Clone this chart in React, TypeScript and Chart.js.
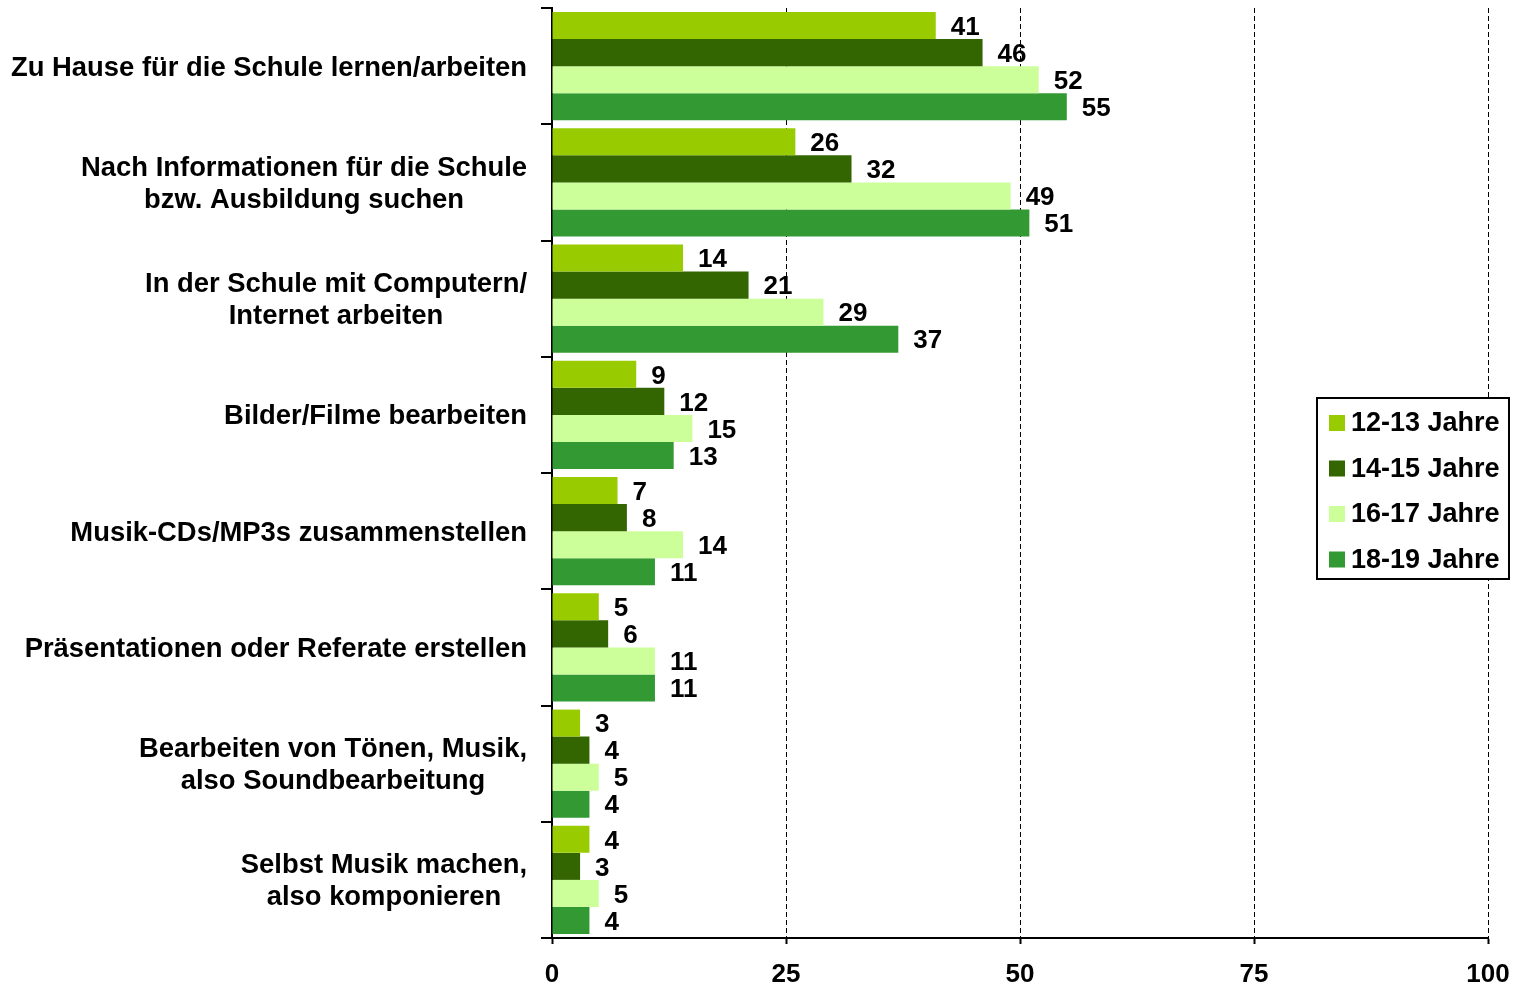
import React, { useEffect, useRef } from "react";
import { Chart, registerables } from "chart.js";

Chart.register(...registerables);

const categories: string[][] = [
  ["Zu Hause für die Schule lernen/arbeiten"],
  ["Nach Informationen für die Schule", "bzw. Ausbildung suchen"],
  ["In der Schule mit Computern/", "Internet arbeiten"],
  ["Bilder/Filme bearbeiten"],
  ["Musik-CDs/MP3s zusammenstellen"],
  ["Präsentationen oder Referate erstellen"],
  ["Bearbeiten von Tönen, Musik,", "also Soundbearbeitung"],
  ["Selbst Musik machen,", "also komponieren"],
];
const seriesNames = ["12-13 Jahre", "14-15 Jahre", "16-17 Jahre", "18-19 Jahre"];
const age1213 = [41, 26, 14, 9, 7, 5, 3, 4];
const age1415 = [46, 32, 21, 12, 8, 6, 4, 3];
const age1617 = [52, 49, 29, 15, 14, 11, 5, 5];
const age1819 = [55, 51, 37, 13, 11, 11, 4, 4];
const xTicks = [0, 25, 50, 75, 100];
const colors = ["#99CC00", "#336600", "#CCFF99", "#339933"];

const FONT = "'Liberation Sans', Arial, Helvetica, sans-serif";

const valueLabelPlugin = {
  id: "valueLabels",
  afterDatasetsDraw(chart: any) {
    const ctx = chart.ctx;
    ctx.save();
    ctx.font = `bold 26px ${FONT}`;
    ctx.fillStyle = "#000";
    ctx.textAlign = "left";
    ctx.textBaseline = "middle";
    chart.data.datasets.forEach((ds: any, di: number) => {
      const meta = chart.getDatasetMeta(di);
      meta.data.forEach((bar: any, i: number) => {
        ctx.fillText(String(ds.data[i]), bar.x + 15, bar.y + 2);
      });
    });
    ctx.restore();
  },
};

const categoryLabelPlugin = {
  id: "categoryLabels",
  afterDraw(chart: any) {
    const ctx = chart.ctx;
    const yScale = chart.scales.y;
    ctx.save();
    ctx.font = `bold 27.4px ${FONT}`;
    ctx.fillStyle = "#000";
    ctx.textAlign = "center";
    ctx.textBaseline = "middle";
    const rightEdge = yScale.right - 25;
    categories.forEach((lines, i) => {
      const cy = yScale.getPixelForValue(i) + 2;
      const w = Math.max(...lines.map((l) => ctx.measureText(l).width));
      const cx = rightEdge - w / 2;
      lines.forEach((l, j) => {
        ctx.fillText(l, cx, cy + (j - (lines.length - 1) / 2) * 32);
      });
    });
    ctx.restore();
  },
};

const legendPlugin = {
  id: "customLegend",
  afterDraw(chart: any) {
    const ctx = chart.ctx;
    const left = 1317;
    const top = 398;
    const width = 192;
    const height = 181;
    ctx.save();
    ctx.fillStyle = "#fff";
    ctx.fillRect(left, top, width, height);
    ctx.strokeStyle = "#000";
    ctx.lineWidth = 2;
    ctx.strokeRect(left, top, width, height);
    ctx.font = `bold 27px ${FONT}`;
    ctx.textAlign = "left";
    ctx.textBaseline = "middle";
    seriesNames.forEach((name, i) => {
      const cy = top + 25 + i * 45.5;
      ctx.fillStyle = colors[i];
      ctx.fillRect(left + 12, cy - 8, 16, 16);
      ctx.fillStyle = "#000";
      ctx.fillText(name, left + 34, cy + 1);
    });
    ctx.restore();
  },
};

export default function App() {
  const canvasRef = useRef<HTMLCanvasElement | null>(null);

  useEffect(() => {
    if (!canvasRef.current) return;
    const series = [age1213, age1415, age1617, age1819];
    const chart = new Chart(canvasRef.current, {
      type: "bar",
      data: {
        labels: categories.map((c) => c.join(" ")),
        datasets: series.map((values, i) => ({
          label: seriesNames[i],
          data: values,
          backgroundColor: colors[i],
          borderWidth: 0,
          categoryPercentage: 0.93,
          barPercentage: 1,
        })),
      },
      options: {
        indexAxis: "y",
        responsive: false,
        animation: false,
        layout: { padding: { top: 8, right: 29, left: 0, bottom: 0 } },
        plugins: {
          legend: { display: false },
          tooltip: { enabled: false },
        },
        scales: {
          x: {
            type: "linear",
            position: "bottom",
            min: 0,
            max: 100,
            afterBuildTicks: (scale: any) => {
              scale.ticks = xTicks.map((v) => ({ value: v }));
            },
            afterFit: (scale: any) => {
              scale.height = 48;
              scale.paddingLeft = 0;
              scale.paddingRight = 0;
            },
            ticks: {
              color: "#000",
              font: { family: FONT, size: 26, weight: "bold" },
              padding: 15,
              maxRotation: 0,
            },
            grid: {
              color: "#000",
              lineWidth: 1,
              drawTicks: true,
              tickLength: 6,
              tickWidth: 2,
              tickColor: "#000",
              tickBorderDash: [],
            },
            border: { display: true, color: "#000", width: 2, dash: [5, 3] },
          },
          y: {
            type: "category",
            position: "left",
            afterFit: (scale: any) => {
              scale.width = 552;
              scale.paddingTop = 0;
              scale.paddingBottom = 0;
            },
            ticks: { display: false },
            grid: {
              display: true,
              drawOnChartArea: false,
              drawTicks: true,
              tickLength: 11,
              lineWidth: 2,
              color: "#000",
              tickColor: "#000",
              tickWidth: 2,
              offset: true,
            },
            border: { display: true, color: "#000", width: 2 },
          },
        },
      } as any,
      plugins: [valueLabelPlugin, categoryLabelPlugin, legendPlugin],
    });
    return () => chart.destroy();
  }, []);

  return (
    <div style={{ position: "absolute", left: 0, top: 0, width: 1517, height: 986, background: "#fff" }}>
      <canvas ref={canvasRef} width={1517} height={986} style={{ width: 1517, height: 986 }} />
    </div>
  );
}
